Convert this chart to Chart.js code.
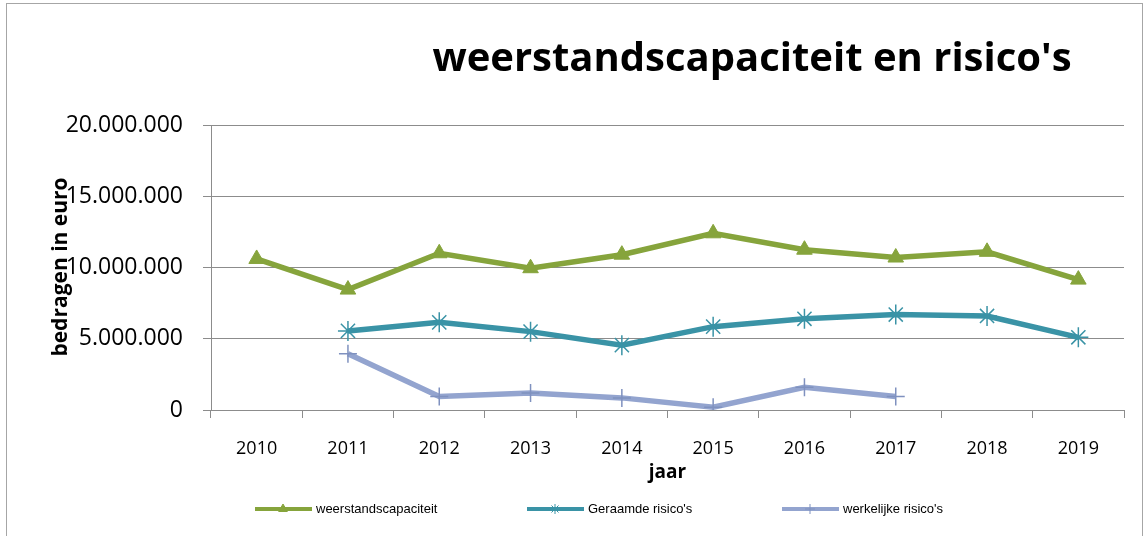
<!DOCTYPE html>
<html>
<head>
<meta charset="utf-8">
<script src="https://cdn.jsdelivr.net/npm/chart.js@4.4.0/dist/chart.umd.min.js"></script>
<style>
    html, body { margin: 0; padding: 0; background: #fff; }
    #wrap { width: 1147px; height: 536px; position: relative; }
</style>
</head>
<body>
<div id="wrap"><canvas id="chart" width="1147" height="536"></canvas></div>
<script>
    var years = ['2010', '2011', '2012', '2013', '2014', '2015', '2016', '2017', '2018', '2019'];
    var weerstand = [10600000, 8450000, 11000000, 9950000, 10900000, 12400000, 11250000, 10700000, 11100000, 9150000];
    var geraamd = [null, 5550000, 6150000, 5500000, 4550000, 5850000, 6400000, 6700000, 6600000, 5100000];
    var werkelijk = [null, 3950000, 950000, 1200000, 850000, 200000, 1600000, 950000, null, null];
    var yTicks = [0, 5000000, 10000000, 15000000, 20000000];

    var chartTitle = "weerstandscapaciteit en risico's";
    var yTitle = 'bedragen in euro';
    var xTitle = 'jaar';

    var font = '"Open Sans", "DejaVu Sans", sans-serif';
    var legendFont = '"Liberation Sans Narrow", "Liberation Sans", sans-serif';

    function fmt(v) {
        return String(v).replace(/\B(?=(\d{3})+(?!\d))/g, '.');
    }

    // border, title, axis titles and legend drawn by hand
    var extras = {
        id: 'extras',
        afterDraw: function (chart) {
            var ctx = chart.ctx;
            var area = chart.chartArea;
            ctx.save();

            ctx.strokeStyle = '#a6a6a6';
            ctx.lineWidth = 1;
            ctx.strokeRect(6.5, 3.5, 1136, 540);

            ctx.fillStyle = '#000';
            ctx.textAlign = 'center';
            ctx.textBaseline = 'middle';
            ctx.font = 'bold 40px ' + font;
            ctx.fillText(chartTitle, 752, 60);

            ctx.font = 'bold 19px ' + font;
            ctx.fillText(xTitle, (area.left + area.right) / 2, 473);

            ctx.save();
            ctx.translate(61, 267);
            ctx.rotate(-Math.PI / 2);
            ctx.font = 'bold 21px ' + font;
            ctx.fillText(yTitle, 0, 0);
            ctx.restore();

            var items = [
                { ds: 0, x: 255 },
                { ds: 1, x: 527 },
                { ds: 2, x: 782 }
            ];
            var ly = 509;
            items.forEach(function (it) {
                var ds = chart.data.datasets[it.ds];
                ctx.strokeStyle = ds.borderColor;
                ctx.lineWidth = 4;
                ctx.beginPath();
                ctx.moveTo(it.x, ly);
                ctx.lineTo(it.x + 57, ly);
                ctx.stroke();
                ctx.fillStyle = ds.backgroundColor;
                ctx.strokeStyle = ds.pointBorderColor || ds.borderColor;
                ctx.lineWidth = 1;
                Chart.helpers.drawPoint(ctx, {
                    pointStyle: ds.pointStyle,
                    radius: 5,
                    rotation: 0,
                    borderWidth: 1
                }, it.x + 28, ly);
                ctx.fillStyle = '#000';
                ctx.font = '13px ' + legendFont;
                ctx.textAlign = 'left';
                ctx.fillText(ds.label, it.x + 61, ly);
            });
            ctx.restore();
        }
    };

    var canvas = document.getElementById('chart');
    new Chart(canvas, {
        type: 'line',
        data: {
            labels: years,
            datasets: [
                {
                    label: 'weerstandscapaciteit',
                    data: weerstand,
                    borderColor: '#86a43c',
                    backgroundColor: '#86a43c',
                    borderWidth: 5.5,
                    pointStyle: 'triangle',
                    pointRadius: 9,
                    pointBorderWidth: 1
                },
                {
                    label: "Geraamde risico's",
                    data: geraamd,
                    borderColor: '#3a93a6',
                    backgroundColor: '#3a93a6',
                    borderWidth: 5.5,
                    pointStyle: 'star',
                    pointRadius: 10,
                    pointBorderWidth: 1.5
                },
                {
                    label: "werkelijke risico's",
                    data: werkelijk,
                    borderColor: '#93a4cf',
                    backgroundColor: '#93a4cf',
                    borderWidth: 5.5,
                    pointStyle: 'cross',
                    pointRadius: 9,
                    pointBorderWidth: 1.5,
                    pointBorderColor: '#7f91bf'
                }
            ]
        },
        options: {
            responsive: false,
            animation: false,
            spanGaps: false,
            layout: { padding: { left: 0, right: 23, top: 125, bottom: 66 } },
            plugins: {
                legend: { display: false },
                title: { display: false },
                tooltip: { enabled: false }
            },
            scales: {
                x: {
                    offset: true,
                    grid: {
                        offset: true,
                        drawOnChartArea: false,
                        color: '#8c8c8c',
                        tickLength: 8
                    },
                    border: { color: '#8c8c8c' },
                    ticks: {
                        color: '#000',
                        font: { family: font, size: 18 },
                        padding: 20,
                        maxRotation: 0
                    },
                    afterFit: function (scale) { scale.height = 60; }
                },
                y: {
                    min: 0,
                    max: 20000000,
                    afterBuildTicks: function (scale) {
                        scale.ticks = yTicks.map(function (v) { return { value: v }; });
                    },
                    grid: {
                        color: '#8c8c8c',
                        tickLength: 8
                    },
                    border: { color: '#8c8c8c' },
                    ticks: {
                        color: '#000',
                        font: { family: font, size: 23 },
                        padding: 20,
                        callback: function (v) { return fmt(v); }
                    },
                    afterFit: function (scale) { scale.width = 211; }
                }
            }
        },
        plugins: [extras]
    });
</script>
</body>
</html>
